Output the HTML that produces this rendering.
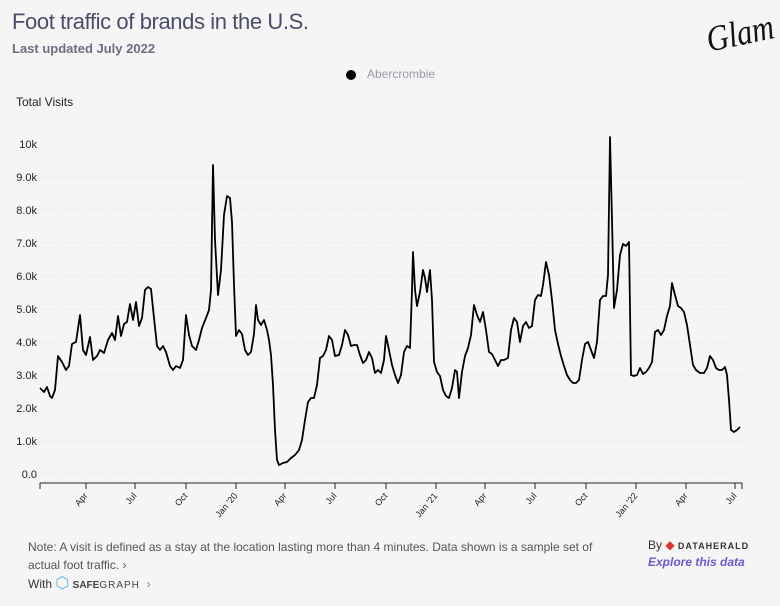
<!DOCTYPE html>
<html><head><style>
body{margin:0;background:#f5f5f5;font-family:"Liberation Sans",sans-serif;}
.wrap{position:relative;width:780px;height:606px;overflow:hidden;background:#f5f5f5}
.t{position:absolute;white-space:nowrap}
</style></head><body><div class="wrap">
<div class="t" style="left:12px;top:9px;font-size:22px;color:#4a4d68;letter-spacing:-0.4px">Foot traffic of brands in the U.S.</div>
<div class="t" style="left:12px;top:41px;font-size:13px;color:#6b6e80;font-weight:bold">Last updated July 2022</div>
<div class="t" style="left:700px;top:12px;font-family:'Liberation Serif',serif;font-style:italic;font-size:36px;color:#111;transform:rotate(-12deg) scaleX(0.85)">Glam</div>
<div class="t" style="left:346px;top:70px;width:10px;height:10px;border-radius:50%;background:#000"></div>
<div class="t" style="left:367px;top:67px;font-size:12px;color:#999aa8">Abercrombie</div>
<div class="t" style="left:16px;top:95px;font-size:12px;color:#222">Total Visits</div>
<svg width="780" height="606" style="position:absolute;left:0;top:0" font-family="Liberation Sans" font-size="11" fill="#222">
<g stroke="#ddd" stroke-dasharray="1,2">
<line x1="40" x2="742" y1="144" y2="144"/><line x1="40" x2="742" y1="177" y2="177"/><line x1="40" x2="742" y1="210" y2="210"/><line x1="40" x2="742" y1="243" y2="243"/><line x1="40" x2="742" y1="276" y2="276"/><line x1="40" x2="742" y1="309" y2="309"/><line x1="40" x2="742" y1="342" y2="342"/><line x1="40" x2="742" y1="375" y2="375"/><line x1="40" x2="742" y1="408" y2="408"/><line x1="40" x2="742" y1="441" y2="441"/><line x1="40" x2="742" y1="474" y2="474"/>
</g>
<g text-anchor="end"><text x="37" y="148">10k</text><text x="37" y="181">9.0k</text><text x="37" y="214">8.0k</text><text x="37" y="247">7.0k</text><text x="37" y="280">6.0k</text><text x="37" y="313">5.0k</text><text x="37" y="346">4.0k</text><text x="37" y="379">3.0k</text><text x="37" y="412">2.0k</text><text x="37" y="445">1.0k</text><text x="37" y="478">0.0</text></g>
<line x1="40" x2="742" y1="483" y2="483" stroke="#222"/>
<g stroke="#222"><line x1="40" x2="40" y1="483" y2="489"/><line x1="86" x2="86" y1="483" y2="489"/><line x1="135" x2="135" y1="483" y2="489"/><line x1="186" x2="186" y1="483" y2="489"/><line x1="236" x2="236" y1="483" y2="489"/><line x1="285" x2="285" y1="483" y2="489"/><line x1="335" x2="335" y1="483" y2="489"/><line x1="386" x2="386" y1="483" y2="489"/><line x1="436" x2="436" y1="483" y2="489"/><line x1="485" x2="485" y1="483" y2="489"/><line x1="535" x2="535" y1="483" y2="489"/><line x1="586" x2="586" y1="483" y2="489"/><line x1="636" x2="636" y1="483" y2="489"/><line x1="686" x2="686" y1="483" y2="489"/><line x1="735" x2="735" y1="483" y2="489"/><line x1="742" x2="742" y1="483" y2="489"/></g>
<g font-size="9" text-anchor="end">
<text transform="translate(88,496) rotate(-50)">Apr</text><text transform="translate(137,496) rotate(-50)">Jul</text><text transform="translate(188,496) rotate(-50)">Oct</text><text transform="translate(238,496) rotate(-50)">Jan '20</text><text transform="translate(287,496) rotate(-50)">Apr</text><text transform="translate(337,496) rotate(-50)">Jul</text><text transform="translate(388,496) rotate(-50)">Oct</text><text transform="translate(438,496) rotate(-50)">Jan '21</text><text transform="translate(487,496) rotate(-50)">Apr</text><text transform="translate(537,496) rotate(-50)">Jul</text><text transform="translate(588,496) rotate(-50)">Oct</text><text transform="translate(638,496) rotate(-50)">Jan '22</text><text transform="translate(688,496) rotate(-50)">Apr</text><text transform="translate(737,496) rotate(-50)">Jul</text></g>
<polyline fill="none" stroke="#000" stroke-width="1.8" stroke-linejoin="round" points="40,388 44,392 47,387 50,396 52,398 55,390 58,356 62,362 66,370 69,366 72,344 76,342 80,315 83,350 86,355 90,337 93,360 97,356 100,350 104,353 108,340 112,333 115,340 118,316 121,336 124,324 127,322 130,304 133,320 136,302 139,326 142,318 145,290 148,287 151,289 154,318 157,346 160,350 163,346 166,352 170,366 173,370 176,366 180,368 183,360 186,315 189,335 192,346 196,350 199,340 202,328 206,318 209,310 211,290 213,165 215,240 218,295 221,270 224,215 227,196 230,198 232,222 234,285 236,336 239,330 242,334 245,350 248,355 251,352 254,334 256,305 258,320 261,325 264,320 267,330 269,340 271,355 273,385 275,430 277,460 279,465 283,463 287,462 291,458 295,455 299,450 302,440 305,420 308,402 311,398 314,398 317,385 320,358 323,356 326,350 329,336 332,340 335,356 339,355 342,345 345,330 348,335 351,346 354,345 357,345 360,355 363,363 366,360 369,352 372,358 375,373 378,370 381,373 384,360 386,336 389,350 392,365 395,375 398,383 401,375 404,352 407,346 410,348 412,290 413,252 415,290 417,306 420,292 423,270 425,278 427,292 430,270 432,300 434,362 437,372 440,376 443,390 446,396 449,398 452,388 455,370 457,372 459,398 462,372 465,356 468,348 471,335 474,305 477,315 480,322 483,312 486,330 489,352 492,354 495,360 498,366 501,360 504,360 508,358 511,330 514,318 517,322 520,342 523,326 526,322 529,328 532,326 535,300 538,295 541,296 543,285 546,262 549,275 552,300 555,330 558,344 561,356 564,366 567,375 570,380 573,383 576,383 579,380 582,360 585,344 588,342 591,350 594,358 597,342 600,300 603,296 606,296 608,275 610,137 612,220 614,308 617,290 620,255 623,244 626,246 629,242 631,375 634,376 637,375 640,368 643,374 646,372 649,368 652,362 655,332 658,330 661,335 664,330 667,316 670,306 672,283 675,295 678,306 681,308 684,312 687,325 690,345 693,365 696,370 700,373 704,373 707,368 710,356 713,360 716,368 719,370 722,370 725,367 727,375 729,400 731,430 734,432 737,430 740,427"/>
</svg>
<div class="t" style="left:28px;top:538px;font-size:12px;color:#555;line-height:18px;white-space:normal;width:580px">Note: A visit is defined as a stay at the location lasting more than 4 minutes. Data shown is a sample set of actual foot traffic. ›</div>
<div class="t" style="left:28px;top:573px;font-size:12px;color:#333">With <span style="color:#5ab4e0;font-size:16px">⬡</span> <b style="font-size:10px;color:#444">SAFE</b><span style="font-size:10px;color:#444;letter-spacing:1px">GRAPH</span> &nbsp;<span style="color:#888">›</span></div>
<div class="t" style="left:648px;top:538px;font-size:12px;color:#333">By <span style="color:#d33">◆</span> <b style="font-size:9px;letter-spacing:1px">DATAHERALD</b></div>
<div class="t" style="left:648px;top:555px;font-size:12px;color:#6a5acd;font-style:italic;font-weight:bold">Explore this data</div>
</div></body></html>
